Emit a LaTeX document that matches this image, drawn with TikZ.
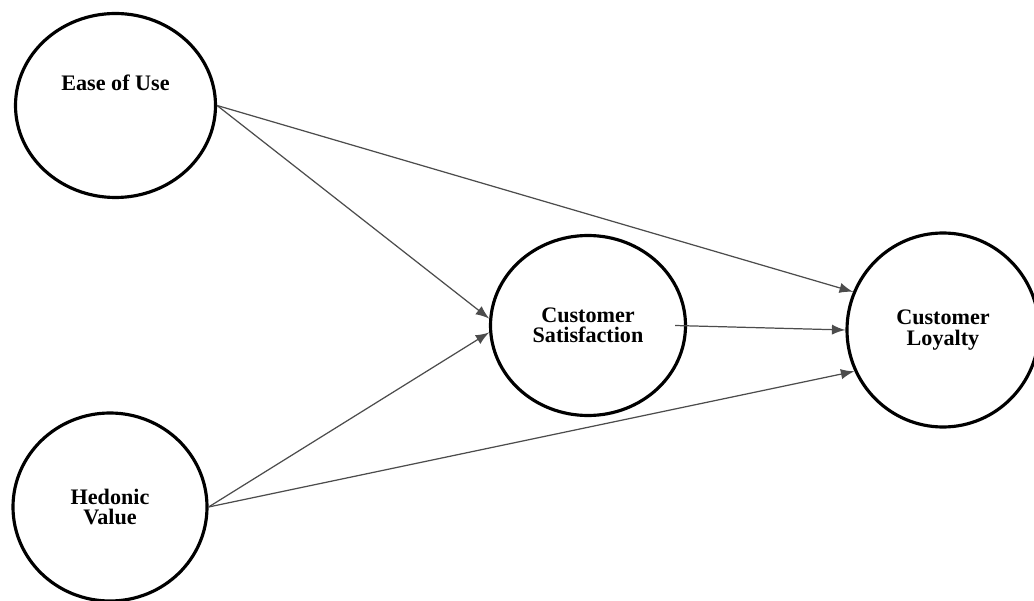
\documentclass[tikz,border=0pt]{standalone}
\usepackage{fontspec}
\setmainfont{Liberation Serif}
\usetikzlibrary{shapes.geometric}

\begin{document}
\begin{tikzpicture}[
    font=\rmfamily\bfseries\fontsize{6.3}{5.8}\selectfont,
    >=latex,
    construct/.style={ellipse, draw, line width=0.9pt, inner sep=0pt, align=center},
    link/.style={->, draw=black!70, line width=0.35pt}
]

\useasboundingbox (0,0) rectangle (10.34,-6.01);

% ==========================================
% 1. CONSTRUCTS
% ==========================================

\node[construct, minimum width=2.0cm, minimum height=1.84cm,
      label={[yshift=0.23cm]center:Ease of Use}] (ease) at (1.155,-1.055) {};
\node[construct, minimum width=1.94cm, minimum height=1.88cm] (hedonic) at (1.10,-5.07) {Hedonic\\Value};
\node[construct, minimum width=1.95cm, minimum height=1.80cm] (satisfaction) at (5.88,-3.255) {Customer\\Satisfaction};
\node[construct, minimum width=1.92cm, minimum height=1.94cm] (loyalty) at (9.43,-3.30) {Customer\\Loyalty};

% ==========================================
% 2. PATHS
% ==========================================

\draw[link] (ease.east) -- (satisfaction.176);
\draw[link] (ease.east) -- (loyalty.157);
\draw[link] (hedonic.east) -- (satisfaction.184);
\draw[link] (hedonic.east) -- (loyalty.205);
\draw[link] ([xshift=-0.12cm]satisfaction.east) -- (loyalty.west);

\end{tikzpicture}
\end{document}
